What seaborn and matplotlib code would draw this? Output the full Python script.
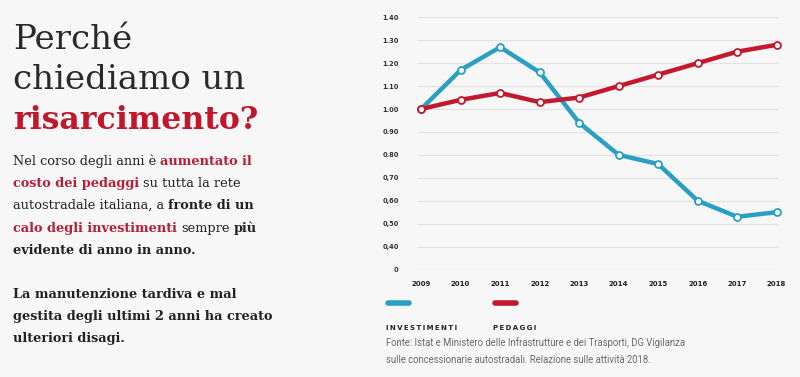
import seaborn as sns
import matplotlib.pyplot as plt
import pandas as pd
from matplotlib.lines import Line2D

# Data (index, 2009 = 1)
years = [2009, 2010, 2011, 2012, 2013, 2014, 2015, 2016, 2017, 2018]
investimenti = [1.00, 1.17, 1.27, 1.16, 0.94, 0.80, 0.76, 0.60, 0.53, 0.55]
pedaggi = [1.00, 1.04, 1.07, 1.03, 1.05, 1.10, 1.15, 1.20, 1.25, 1.28]

ytick_values = [1.4, 1.3, 1.2, 1.1, 1.0, 0.9, 0.8, 0.7, 0.6, 0.5, 0.4, 0.3]
ytick_labels = ["1.40", "1.30", "1.20", "1.10", "1.00", "0.90", "0.80",
                "0,70", "0,60", "0,50", "0,40", "0"]

series_names = ["INVESTIMENTI", "PEDAGGI"]
colors = {"INVESTIMENTI": "#2a9fc4", "PEDAGGI": "#c4182f"}

df = pd.DataFrame({
    "anno": years * 2,
    "valore": investimenti + pedaggi,
    "serie": ["INVESTIMENTI"] * len(years) + ["PEDAGGI"] * len(years),
})

BG = "#f7f7f7"
RED = "#c0172d"
DARK = "#222222"

sns.set_style("white")
plt.rcParams["font.family"] = ["DejaVu Sans"]

fig = plt.figure(figsize=(8, 3.77), dpi=100, facecolor=BG)
W, H = 800, 377


def fx(px):
    return px / W


def fy(py):
    return 1 - py / H


# chart area
ax = fig.add_axes([fx(418), fy(269.5), fx(779 - 418), (269.5 - 17.3) / H])
ax.set_facecolor(BG)

for name in series_names:
    sub = df[df["serie"] == name]
    sns.lineplot(data=sub, x="anno", y="valore", ax=ax, color=colors[name],
                 linewidth=3.2, marker="o", markersize=5,
                 markerfacecolor="white", markeredgecolor=colors[name],
                 markeredgewidth=1.3, clip_on=False, legend=False)

ax.set_xlim(2009 - 0.08, 2018 + 0.06)
ax.set_ylim(0.3, 1.4)
ax.set_yticks(ytick_values)
ax.set_yticklabels(ytick_labels, fontsize=4.8, fontweight="bold", color="#333333")
ax.set_xticks(years)
ax.set_xticklabels([str(y) for y in years], fontsize=5, fontweight="bold", color="#222222")
ax.tick_params(axis="y", length=0, pad=14)
ax.tick_params(axis="x", length=0, pad=8)
ax.grid(axis="y", color="#e3e3e3", linewidth=0.9)
ax.set_axisbelow(True)
for s in ax.spines.values():
    s.set_visible(False)
ax.set_xlabel("")
ax.set_ylabel("")

renderer = fig.canvas.get_renderer()


def text_width(s, **kw):
    t = fig.text(0, 0, s, **kw)
    w = t.get_window_extent(renderer).width
    t.remove()
    return w


# legend: short rounded strokes with letter-spaced labels below
for name, x0 in zip(series_names, [386, 493]):
    fig.add_artist(Line2D([fx(x0 + 2), fx(x0 + 23)], [fy(302.7), fy(302.7)],
                          color=colors[name], linewidth=4, solid_capstyle="round"))
    fig.text(fx(x0), fy(330.5), "\u2009".join(name), fontsize=5, fontweight="bold",
             color="#222222", va="baseline", ha="left")

src_kw = dict(fontsize=6.85, family="Roboto", color="#6a6a6a", va="baseline")
fig.text(fx(386), fy(346), "Fonte: Istat e Ministero delle Infrastrutture e dei Trasporti, DG Vigilanza", **src_kw)
fig.text(fx(386), fy(363), "sulle concessionarie autostradali. Relazione sulle attività 2018.", **src_kw)

# left text block
SERIF = "DejaVu Serif"
fig.text(fx(13), fy(49), "Perché", fontsize=24.5, family=SERIF, color="#2a2a2a", va="baseline")
fig.text(fx(13), fy(89), "chiediamo un", fontsize=24.5, family=SERIF, color="#2a2a2a", va="baseline")
fig.text(fx(13), fy(129), "risarcimento?", fontsize=22.8, family=SERIF, fontweight="bold",
         color=RED, va="baseline")

BODY = 9.3
space_w = text_width("x x", fontsize=BODY, family=SERIF) - text_width("xx", fontsize=BODY, family=SERIF)

N, B, R = ("normal", DARK), ("bold", DARK), ("bold", "#b81f36")
paragraph = [
    (165, [("Nel corso degli anni è", N), ("aumentato il", R)]),
    (187, [("costo dei pedaggi", R), ("su tutta la rete", N)]),
    (209, [("autostradale italiana, a", N), ("fronte di un", B)]),
    (232, [("calo degli investimenti", R), ("sempre", N), ("più", B)]),
    (254, [("evidente di anno in anno.", B)]),
    (298, [("La manutenzione tardiva e mal", B)]),
    (320, [("gestita degli ultimi 2 anni ha creato", B)]),
    (342, [("ulteriori disagi.", B)]),
]
for y, parts in paragraph:
    x = 13
    for s, (weight, color) in parts:
        fig.text(fx(x), fy(y), s, fontsize=BODY, family=SERIF, fontweight=weight,
                 color=color, va="baseline", ha="left")
        x += text_width(s, fontsize=BODY, family=SERIF, fontweight=weight) + space_w

plt.savefig("out.png", dpi=100, facecolor=BG)
